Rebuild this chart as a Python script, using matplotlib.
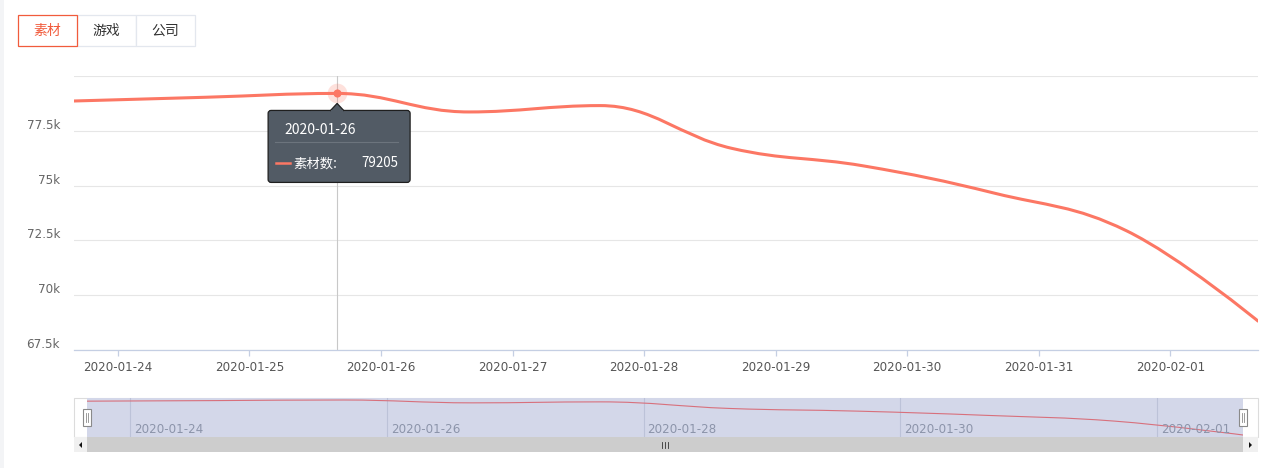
import numpy as np
import matplotlib.pyplot as plt
import matplotlib.transforms as mtransforms
from matplotlib.path import Path
from matplotlib.patches import PathPatch, Rectangle, FancyBboxPatch, Polygon
from matplotlib.lines import Line2D

plt.rcParams['font.family'] = ['DejaVu Sans', 'Noto Sans CJK SC']
CJK = ['Noto Sans CJK SC', 'DejaVu Sans']

# daily counts (points sit at local midnight, axis labels at UTC midnight -> +8h)
dates = ['2020-01-24', '2020-01-25', '2020-01-26', '2020-01-27', '2020-01-28',
         '2020-01-29', '2020-01-30', '2020-01-31', '2020-02-01', '2020-02-02']
counts = [78860, 79030, 79205, 78360, 78650, 76700, 75900, 74650, 72940, 68820]
axis_labels = dates[:9]
slider_labels = dates[0:9:2]
tabs = ['素材', '游戏', '公司']
series_name = '素材数'
hover_idx = 2
y_ticks = [67500, 70000, 72500, 75000, 77500, 80000]
y_ticklabels = ['67.5k', '70k', '72.5k', '75k', '77.5k', '']

LINE = '#fc7764'
W, H = 1264, 468
ident = mtransforms.IdentityTransform()


def fx(px):
    return px / W


def fy(py):
    return 1 - py / H


def spline_path(xs, ys, smoothing=1.5):
    # highcharts-style spline: control points kept between neighbours (no false extremes)
    n = len(xs)
    left = [None] * n
    right = [None] * n
    denom = smoothing + 1
    for i in range(1, n - 1):
        x, y = xs[i], ys[i]
        lx, ly = xs[i - 1], ys[i - 1]
        nx, ny = xs[i + 1], ys[i + 1]
        lcx, lcy = (smoothing * x + lx) / denom, (smoothing * y + ly) / denom
        rcx, rcy = (smoothing * x + nx) / denom, (smoothing * y + ny) / denom
        corr = (rcy - lcy) * (rcx - x) / (rcx - lcx) + y - rcy
        lcy += corr
        rcy += corr
        if lcy > ly and lcy > y:
            lcy = max(ly, y)
            rcy = 2 * y - lcy
        elif lcy < ly and lcy < y:
            lcy = min(ly, y)
            rcy = 2 * y - lcy
        if rcy > ny and rcy > y:
            rcy = max(ny, y)
            lcy = 2 * y - rcy
        elif rcy < ny and rcy < y:
            rcy = min(ny, y)
            lcy = 2 * y - rcy
        left[i] = (lcx, lcy)
        right[i] = (rcx, rcy)
    verts = [(xs[0], ys[0])]
    codes = [Path.MOVETO]
    for i in range(1, n):
        c0 = right[i - 1] or (xs[i - 1], ys[i - 1])
        c1 = left[i] or (xs[i], ys[i])
        verts += [c0, c1, (xs[i], ys[i])]
        codes += [Path.CURVE4] * 3
    return Path(verts, codes)


fig = plt.figure(figsize=(W / 100, H / 100), dpi=100)
fig.patch.set_facecolor('white')
fig.add_artist(Rectangle((0, 0), fx(4), 1, transform=fig.transFigure,
                         facecolor='#f3f4f6', edgecolor='none', zorder=-2))

# ---- tabs ----
tab_x = [18, 77, 136, 195]
for i, name in enumerate(tabs):
    active = i == 0
    fig.add_artist(Rectangle((fx(tab_x[i]), fy(46)), fx(tab_x[i + 1]) - fx(tab_x[i]), fy(15) - fy(46),
                             transform=fig.transFigure, facecolor='white',
                             edgecolor='#f15b3c' if active else '#e3e7ee', lw=0.9,
                             zorder=2 if active else 1))
    fig.text(fx((tab_x[i] + tab_x[i + 1]) / 2), fy(31), name, ha='center', va='center',
             fontsize=10, family=CJK, color='#f15b3c' if active else '#333333', zorder=3)

# ---- main chart ----
ax = fig.add_axes([fx(74), fy(350), fx(1258) - fx(74), fy(76) - fy(350)])
x = np.arange(len(counts))
ax.set_xlim(0, len(counts) - 1)
ax.set_ylim(y_ticks[0], y_ticks[-1])
ax.set_yticks(y_ticks)
ax.set_yticklabels(y_ticklabels)
ax.set_xticks(np.arange(len(axis_labels)) + 1 / 3)
ax.set_xticklabels(axis_labels)
ax.grid(axis='y', color='#e6e6e6', lw=0.8)
ax.set_axisbelow(True)
for s in ['top', 'right', 'left']:
    ax.spines[s].set_visible(False)
ax.spines['bottom'].set_color('#c5cfe3')
ax.spines['bottom'].set_linewidth(0.9)
ax.tick_params(axis='y', length=0, pad=10, labelsize=8.6, labelcolor='#666666')
ax.tick_params(axis='x', length=4, width=0.9, color='#c5cfe3', pad=4, labelsize=8.6,
               labelcolor='#555555')
up = mtransforms.ScaledTranslation(0, 5 / 72, fig.dpi_scale_trans)
for lab in ax.get_yticklabels():
    lab.set_transform(lab.get_transform() + up)

ax.add_patch(PathPatch(spline_path(x, counts), facecolor='none', edgecolor=LINE,
                       lw=2.2, capstyle='round', zorder=3))
ax.axvline(hover_idx, color='#c8c8c8', lw=0.8, zorder=2)
ax.scatter([hover_idx], [counts[hover_idx]], s=200, color=LINE, alpha=0.22, lw=0, zorder=4)
ax.scatter([hover_idx], [counts[hover_idx]], s=34, color=LINE, lw=0, zorder=5)

# ---- tooltip ----
px, py = ax.transData.transform((hover_idx, counts[hover_idx]))
tl, tr, tt, tb = px - 69, px + 73, py - 17, py - 89
tip_face = '#525b65'
fig.add_artist(FancyBboxPatch((tl, tb), tr - tl, tt - tb, boxstyle='round,pad=0,rounding_size=3',
                              transform=ident, facecolor=tip_face, edgecolor='#1f1f1f', lw=0.9,
                              zorder=6))
fig.add_artist(Polygon([(px - 7, tt - 0.5), (px, tt + 7), (px + 7, tt - 0.5)], closed=False,
                       transform=ident, facecolor=tip_face, edgecolor='#1f1f1f', lw=0.9, zorder=7))
fig.add_artist(Rectangle((px - 6, tt - 2), 12, 2.5, transform=ident, facecolor=tip_face,
                         edgecolor='none', zorder=7))
fig.text(tl + 16, tt - 20, dates[hover_idx], transform=ident, ha='left', va='center',
         fontsize=10, family=CJK, color='#ffffff', zorder=8)
fig.add_artist(Line2D([tl + 7, tr - 12], [tt - 32, tt - 32], transform=ident, color='#6c747d',
                      lw=0.8, zorder=8))
fig.add_artist(Line2D([tl + 8, tl + 22], [tt - 53, tt - 53], transform=ident, color=LINE,
                      lw=1.8, zorder=8))
fig.text(tl + 25, tt - 53, series_name + ':', transform=ident, ha='left', va='center',
         fontsize=9.6, family=CJK, color='#ffffff', zorder=8)
fig.text(tr - 12, tt - 53, str(counts[hover_idx]), transform=ident, ha='right', va='center',
         fontsize=9.6, family=CJK, color='#ffffff', zorder=8)

# ---- data zoom slider ----
fig.add_artist(Rectangle((fx(74), fy(437)), fx(1258) - fx(74), fy(398) - fy(437),
                         transform=fig.transFigure, facecolor='white', edgecolor='#dcdcdc',
                         lw=0.8, zorder=-1))
ax2 = fig.add_axes([fx(87), fy(437), fx(1243) - fx(87), fy(398) - fy(437)])
ax2.set_facecolor('#d3d7e9')
for s in ax2.spines.values():
    s.set_visible(False)
ax2.set_xticks([])
ax2.set_yticks([])
ax2.set_xlim(0, len(counts) - 1)
rng = max(counts) - min(counts)
ax2.set_ylim(min(counts) - rng * 2 / 35, max(counts) + rng * 2 / 35)
ax2.add_patch(PathPatch(spline_path(x, counts), facecolor='none', edgecolor='#d8707c',
                        lw=0.8, zorder=3))
for k, lab in enumerate(slider_labels):
    xv = 2 * k + 1 / 3
    ax2.axvline(xv, color='#bcc2d8', lw=0.8, zorder=1)
    ax2.annotate(lab, xy=(xv, 0.18), xycoords=('data', 'axes fraction'), xytext=(4, 0),
                 textcoords='offset pixels', ha='left', va='center', fontsize=8.6,
                 color='#8c94aa', zorder=4)

for hx in [87, 1243]:
    fig.add_artist(Rectangle((fx(hx - 4), fy(426)), fx(8), fy(409) - fy(426),
                             transform=fig.transFigure, facecolor='white', edgecolor='#8a8a8a',
                             lw=0.8, zorder=5))
    for dx in [-1, 1]:
        fig.add_artist(Line2D([fx(hx + dx), fx(hx + dx)], [fy(422), fy(413)],
                              transform=fig.transFigure, color='#8a8a8a', lw=0.6, zorder=6))

# scrollbar
fig.add_artist(Rectangle((fx(74), fy(452)), fx(1258) - fx(74), fy(437) - fy(452),
                         transform=fig.transFigure, facecolor='#cdcdcd', edgecolor='none', zorder=1))
for bx0, bx1 in [(74, 87), (1243, 1258)]:
    fig.add_artist(Rectangle((fx(bx0), fy(452)), fx(bx1) - fx(bx0), fy(437) - fy(452),
                             transform=fig.transFigure, facecolor='#f0f0f0', edgecolor='none',
                             zorder=2))
fig.add_artist(Polygon([(fx(79), fy(445)), (fx(82), fy(442)), (fx(82), fy(448))],
                       transform=fig.transFigure, facecolor='#111111', edgecolor='none', zorder=3))
fig.add_artist(Polygon([(fx(1252), fy(445)), (fx(1249), fy(442)), (fx(1249), fy(448))],
                       transform=fig.transFigure, facecolor='#111111', edgecolor='none', zorder=3))
for gx in [662, 665, 668]:
    fig.add_artist(Line2D([fx(gx), fx(gx)], [fy(442), fy(448)], transform=fig.transFigure,
                          color='#333333', lw=0.6, zorder=3))

fig.savefig('out.png', dpi=100)
